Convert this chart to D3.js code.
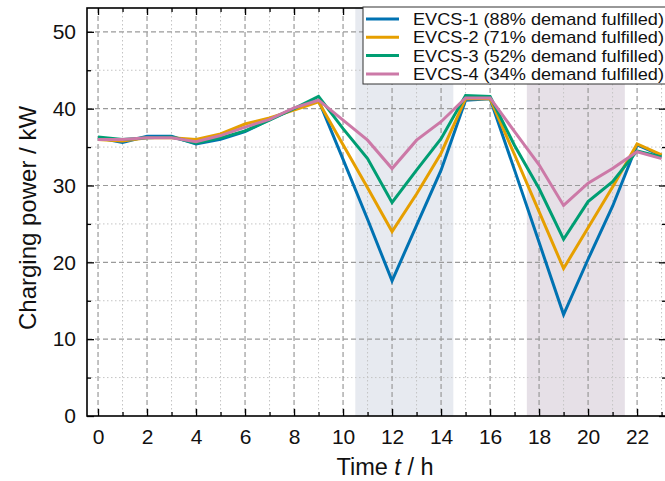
<!DOCTYPE html>
<html>
<head>
<meta charset="utf-8">
<script src="https://cdn.jsdelivr.net/npm/d3@7"></script>
<style>
  body { margin: 0; background: #fff; }
  svg { font-family: "Liberation Sans", Arial, sans-serif; }
  .major line.grid { stroke: #9a9a9a; stroke-dasharray: 5,3; stroke-width: 1.2; }
  .minor line.grid { stroke: #c4c4c4; stroke-dasharray: 1.5,2.5; stroke-width: 1; }
</style>
</head>
<body>
<div class="chart"></div>
<script>
// data
hours = d3.range(0, 24)
names = ['EVCS-1 (88% demand fulfilled)', 'EVCS-2 (71% demand fulfilled)',
         'EVCS-3 (52% demand fulfilled)', 'EVCS-4 (34% demand fulfilled)']
evcs1 = [36.2, 35.6, 36.4, 36.4, 35.4, 36.0, 37.0, 38.6, 40.0, 41.1, 33.4, 25.6,
         17.6, 24.8, 32.0, 41.1, 41.3, 32.0, 22.6, 13.2, 20.4, 27.3, 35.3, 33.9]
evcs2 = [36.0, 35.8, 36.2, 36.2, 36.0, 36.7, 38.0, 38.8, 39.8, 40.9, 35.3, 29.7,
         24.0, 28.9, 34.2, 41.3, 41.3, 34.0, 26.6, 19.2, 24.5, 29.8, 35.4, 34.0]
evcs3 = [36.3, 36.0, 36.2, 36.3, 35.5, 36.2, 37.1, 38.5, 40.0, 41.6, 37.4, 33.5,
         27.8, 32.0, 36.1, 41.7, 41.6, 35.2, 29.6, 23.0, 27.9, 30.5, 34.5, 33.7]
evcs4 = [36.0, 36.0, 36.2, 36.2, 35.7, 36.5, 37.6, 38.6, 40.1, 41.1, 38.5, 35.9,
         32.2, 35.9, 38.3, 41.4, 41.4, 37.0, 32.7, 27.4, 30.3, 32.2, 34.4, 33.5]
bands = [[10.5, 14.5], [17.5, 21.5]]
xTicks = d3.range(0, 24, 2)
yTicks = d3.range(0, 51, 10)

series = [evcs1, evcs2, evcs3, evcs4]
colors = ['#0072B2', '#E69F00', '#009E73', '#CC79A7']
bandColors = ['#e7eaf0', '#e6e0e7']

w = 665
h = 481
var m = {left: 87, right: 666, top: 8, bottom: 416}

var svg = d3.select('div.chart').append('svg')
  .attr('width', w).attr('height', h)

var x = d3.scaleLinear().domain([-0.45, 23.18]).range([m.left, m.right])
var y = d3.scaleLinear().domain([0, 53.1]).range([m.bottom, m.top])

//shaded periods
svg.selectAll('rect.band')
  .data(bands).enter().append('rect')
  .attr('x', d => x(d[0]))
  .attr('width', d => x(d[1]) - x(d[0]))
  .attr('y', m.top).attr('height', m.bottom - m.top)
  .attr('fill', (d, i) => bandColors[i])

//grid
var minorX = d3.range(1, 24, 2), minorY = d3.range(5, 51, 10)
var gMinor = svg.append('g').attr('class', 'minor')
gMinor.selectAll('line.vx').data(minorX).enter().append('line').attr('class', 'grid')
  .attr('x1', d => x(d)).attr('x2', d => x(d)).attr('y1', m.top).attr('y2', m.bottom)
gMinor.selectAll('line.hy').data(minorY).enter().append('line').attr('class', 'grid')
  .attr('y1', d => y(d)).attr('y2', d => y(d)).attr('x1', m.left).attr('x2', m.right)
var gMajor = svg.append('g').attr('class', 'major')
gMajor.selectAll('line.vx').data(xTicks).enter().append('line').attr('class', 'grid')
  .attr('x1', d => x(d)).attr('x2', d => x(d)).attr('y1', m.top).attr('y2', m.bottom)
gMajor.selectAll('line.hy').data(yTicks.filter(d => d > 0)).enter().append('line').attr('class', 'grid')
  .attr('y1', d => y(d)).attr('y2', d => y(d)).attr('x1', m.left).attr('x2', m.right)

//lines
var line = d3.line().x((d, i) => x(hours[i])).y(d => y(d))
svg.selectAll('path.series')
  .data(series).enter().append('path')
  .attr('d', line)
  .attr('fill', 'none')
  .attr('stroke', (d, i) => colors[i])
  .attr('stroke-width', 3)
  .attr('stroke-linejoin', 'miter')

//axes, ticks pointing in
function styleAxis(g) {
  g.select('.domain').remove()
  g.selectAll('.tick line').attr('stroke', '#000').attr('stroke-width', 1.3)
  g.selectAll('text').attr('font-size', '21px').attr('fill', '#111')
}
var xAx = svg.append('g').attr('transform', `translate(0,${m.bottom})`)
  .call(d3.axisBottom(x).tickValues(xTicks).tickSizeInner(-7).tickPadding(13))
styleAxis(xAx)
svg.append('g').attr('transform', `translate(0,${m.bottom})`)
  .call(d3.axisBottom(x).tickValues(minorX).tickSize(-4).tickFormat(''))
  .call(styleAxis)
svg.append('g').attr('transform', `translate(0,${m.top})`)
  .call(d3.axisTop(x).tickValues(xTicks).tickSize(-7).tickFormat(''))
  .call(styleAxis)
svg.append('g').attr('transform', `translate(0,${m.top})`)
  .call(d3.axisTop(x).tickValues(minorX).tickSize(-4).tickFormat(''))
  .call(styleAxis)

var yAx = svg.append('g').attr('transform', `translate(${m.left},0)`)
  .call(d3.axisLeft(y).tickValues(yTicks).tickSizeInner(-7).tickPadding(11))
styleAxis(yAx)
svg.append('g').attr('transform', `translate(${m.left},0)`)
  .call(d3.axisLeft(y).tickValues(minorY).tickSize(-4).tickFormat(''))
  .call(styleAxis)
svg.append('g').attr('transform', `translate(${m.right},0)`)
  .call(d3.axisRight(y).tickValues(yTicks).tickSize(-7).tickFormat(''))
  .call(styleAxis)
svg.append('g').attr('transform', `translate(${m.right},0)`)
  .call(d3.axisRight(y).tickValues(minorY).tickSize(-4).tickFormat(''))
  .call(styleAxis)

//frame
svg.append('rect')
  .attr('x', m.left).attr('y', m.top)
  .attr('width', m.right - m.left).attr('height', m.bottom - m.top)
  .attr('fill', 'none').attr('stroke', '#000').attr('stroke-width', 1.6)

//axis titles
var xt = svg.append('text')
  .attr('x', 385).attr('y', 475)
  .attr('text-anchor', 'middle').attr('font-size', '23.5px').attr('fill', '#111')
xt.append('tspan').text('Time ')
xt.append('tspan').attr('font-style', 'italic').text('t')
xt.append('tspan').text(' / h')

svg.append('text')
  .attr('transform', `translate(36,218) rotate(-90)`)
  .attr('text-anchor', 'middle').attr('font-size', '24px').attr('fill', '#111')
  .text('Charging power / kW')

//legend
var leg = svg.append('g').attr('transform', 'translate(363,7)')
leg.append('rect')
  .attr('width', 320).attr('height', 77)
  .attr('fill', '#fff').attr('stroke', '#333').attr('stroke-width', 1)
var items = leg.selectAll('g.item').data(names).enter().append('g')
  .attr('transform', (d, i) => `translate(0,${12 + i * 18.3})`)
items.append('line')
  .attr('x1', 3).attr('x2', 36)
  .attr('stroke', (d, i) => colors[i]).attr('stroke-width', 3)
items.append('text')
  .attr('x', 50).attr('dy', '0.36em')
  .attr('font-size', '17px').attr('fill', '#111')
  .attr('textLength', 251).attr('lengthAdjust', 'spacingAndGlyphs')
  .text(d => d)
</script>
</body>
</html>
